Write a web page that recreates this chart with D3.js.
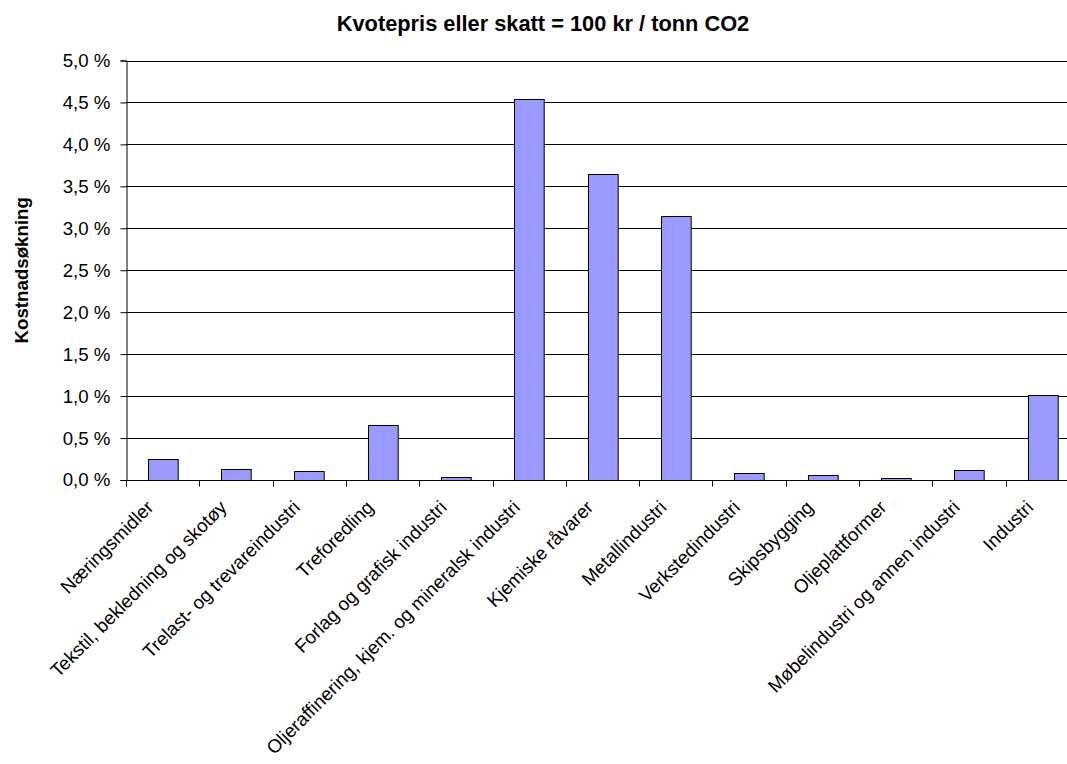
<!DOCTYPE html>
<html>
<head>
<meta charset="utf-8">
<script src="https://cdn.jsdelivr.net/npm/d3@7"></script>
<style>
    body { margin: 0; background: #fff; }
    svg { display: block; font-family: "Liberation Sans", Arial, sans-serif; }
</style>
</head>
<body>
<script>
const title = "Kvotepris eller skatt = 100 kr / tonn CO2";
const yTitle = "Kostnadsøkning";

const categories = [
    "Næringsmidler",
    "Tekstil, bekledning og skotøy",
    "Trelast- og trevareindustri",
    "Treforedling",
    "Forlag og grafisk industri",
    "Oljeraffinering, kjem. og mineralsk industri",
    "Kjemiske råvarer",
    "Metallindustri",
    "Verkstedindustri",
    "Skipsbygging",
    "Oljeplattformer",
    "Møbelindustri og annen industri",
    "Industri"
];

// kostnadsøkning i prosent
const values = [0.25, 0.13, 0.11, 0.66, 0.04, 4.54, 3.65, 3.15, 0.08, 0.06, 0.02, 0.12, 1.01];

const yTicks = [0, 0.5, 1.0, 1.5, 2.0, 2.5, 3.0, 3.5, 4.0, 4.5, 5.0];

window.onload = () => {

    const w = 1067, h = 764;
    const left = 126, right = 1079, top = 60.5, bottom = 480;

    const svg = d3.select("body").append("svg")
        .attr("width", w)
        .attr("height", h);

    svg.append("rect")
        .attr("width", w)
        .attr("height", h)
        .attr("fill", "#fff");

    const x = d3.scaleBand()
        .domain(categories)
        .range([left, right])
        .paddingInner(0.595)
        .paddingOuter(0.2975);

    const y = d3.scaleLinear()
        .domain([0, 5])
        .range([bottom, top]);

    const fmt = (d) => d3.format(".1f")(d).replace(".", ",") + " %";

    // gridlines
    svg.append("g")
        .selectAll("line")
        .data(yTicks.filter(d => d > 0))
        .join("line")
        .attr("x1", left)
        .attr("x2", right)
        .attr("y1", d => Math.round(y(d)) + 0.5)
        .attr("y2", d => Math.round(y(d)) + 0.5)
        .attr("stroke", "#000")
        .attr("stroke-width", 1);

    // bars
    svg.append("g")
        .selectAll("rect")
        .data(values)
        .join("rect")
        .attr("x", (d, i) => Math.round(x(categories[i])) + 0.5)
        .attr("y", d => Math.round(y(d)) + 0.5)
        .attr("width", x.bandwidth())
        .attr("height", d => Math.round(y(0)) - Math.round(y(d)))
        .attr("fill", "#9999ff")
        .attr("stroke", "#000")
        .attr("stroke-width", 1);

    // y axis
    const yAxis = svg.append("g")
        .attr("transform", `translate(${left + 0.5},0)`)
        .call(d3.axisLeft(y).tickValues(yTicks).tickFormat(fmt).tickSize(6).tickPadding(10));

    yAxis.select(".domain").attr("stroke", "#000");
    yAxis.selectAll(".tick line").attr("stroke", "#000");
    yAxis.selectAll(".tick text")
        .attr("fill", "#000")
        .style("font-size", "18.7px")
        .style("font-family", "'Liberation Sans', Arial, sans-serif");

    // x axis: ticks between the categories
    const step = x.step();
    const xAxis = svg.append("g")
        .attr("transform", `translate(0,${bottom + 0.5})`);

    xAxis.append("line")
        .attr("x1", left)
        .attr("x2", right)
        .attr("stroke", "#000");

    xAxis.selectAll("line.tick")
        .data(d3.range(categories.length + 1))
        .join("line")
        .attr("class", "tick")
        .attr("x1", i => Math.round(left + i * step) + 0.5)
        .attr("x2", i => Math.round(left + i * step) + 0.5)
        .attr("y1", 0)
        .attr("y2", 6)
        .attr("stroke", "#000");

    xAxis.selectAll("text")
        .data(categories)
        .join("text")
        .attr("transform", d => `translate(${x(d) + x.bandwidth() / 2 - 8},${28}) rotate(-45)`)
        .attr("text-anchor", "end")
        .attr("fill", "#000")
        .style("font-size", "18.8px")
        .text(d => d);

    // titles
    svg.append("text")
        .attr("x", 543)
        .attr("y", 30.5)
        .attr("text-anchor", "middle")
        .style("font-size", "21.8px")
        .style("font-weight", "bold")
        .text(title);

    svg.append("text")
        .attr("transform", `translate(28,${(top + bottom) / 2}) rotate(-90)`)
        .attr("text-anchor", "middle")
        .style("font-size", "18.7px")
        .style("font-weight", "bold")
        .text(yTitle);
};
</script>
</body>
</html>
